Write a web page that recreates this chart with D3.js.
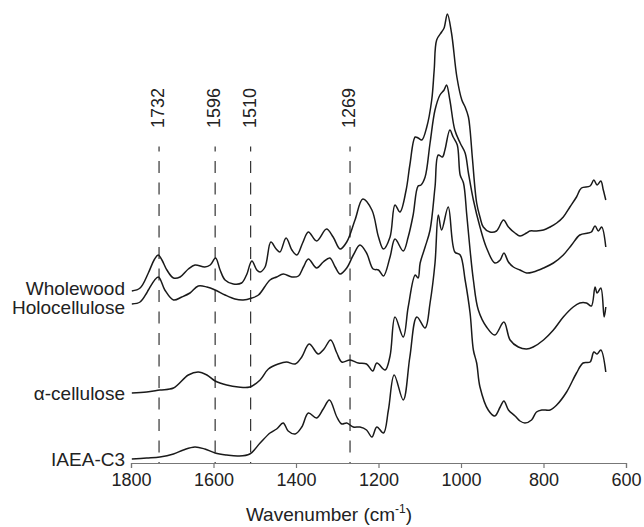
<!DOCTYPE html>
<html>
<head>
<meta charset="utf-8">
<script src="https://cdn.jsdelivr.net/npm/d3@7/dist/d3.min.js"></script>
<style>
  html, body { margin: 0; padding: 0; background: #fff; }
  svg { display: block; }
  text { font-family: "Liberation Sans", Arial, Helvetica, sans-serif; fill: #222; }
</style>
</head>
<body>
<svg id="chart" width="644" height="527"></svg>
<script>
// ---------- DATA (wavenumber cm-1, absorbance, offset spectra) ----------
const seriesNames = ["Wholewood", "Holocellulose", "\u03b1-cellulose", "IAEA-C3"];

const wholewood = [
  [1798,1.79],[1778,1.82],[1758,1.97],[1744,2.10],[1734,2.15],[1725,2.10],[1713,2.00],[1697,1.92],
  [1681,1.93],[1661,2.01],[1645,2.05],[1621,2.03],[1608,2.05],[1595,2.12],[1584,2.00],[1572,1.90],
  [1552,1.86],[1532,1.87],[1520,1.95],[1507,2.09],[1495,2.00],[1487,1.98],[1475,2.03],[1461,2.28],
  [1448,2.21],[1439,2.18],[1424,2.32],[1410,2.20],[1398,2.15],[1384,2.27],[1370,2.38],[1350,2.29],
  [1326,2.41],[1310,2.33],[1293,2.21],[1277,2.28],[1257,2.50],[1238,2.71],[1216,2.60],[1200,2.33],
  [1188,2.21],[1172,2.33],[1160,2.65],[1148,2.58],[1133,2.80],[1124,3.05],[1111,3.33],[1104,3.32],
  [1095,3.30],[1083,3.43],[1071,3.70],[1065,4.00],[1059,4.30],[1047,4.38],[1041,4.42],[1033,4.56],
  [1023,4.37],[1010,3.93],[998,3.70],[990,3.63],[982,3.53],[978,3.40],[972,3.10],[962,2.67],
  [954,2.53],[946,2.43],[930,2.38],[914,2.39],[897,2.50],[885,2.43],[869,2.37],[857,2.34],
  [841,2.37],[833,2.39],[817,2.39],[800,2.40],[784,2.43],[768,2.47],[752,2.53],[736,2.63],
  [720,2.73],[708,2.82],[687,2.84],[678,2.90],[670,2.85],[661,2.89],[655,2.80],[649,2.70]
];

const holocellulose = [
  [1798,1.66],[1778,1.68],[1762,1.77],[1758,1.80],[1734,1.93],[1718,1.80],[1697,1.70],[1677,1.73],
  [1657,1.77],[1637,1.84],[1616,1.83],[1596,1.80],[1572,1.75],[1548,1.71],[1528,1.70],[1507,1.72],
  [1491,1.75],[1463,1.90],[1447,1.93],[1431,1.96],[1410,1.93],[1394,1.94],[1382,2.03],[1370,2.11],
  [1350,2.02],[1334,2.08],[1318,2.12],[1305,2.03],[1293,1.96],[1277,2.02],[1261,2.15],[1245,2.25],
  [1229,2.17],[1213,2.01],[1200,2.00],[1188,1.94],[1172,2.13],[1160,2.31],[1140,2.19],[1128,2.33],
  [1116,2.55],[1104,2.84],[1097,2.85],[1087,2.93],[1075,3.27],[1063,3.60],[1051,3.75],[1041,3.80],
  [1035,3.85],[1027,3.70],[1015,3.40],[1002,3.27],[990,3.17],[982,2.97],[970,2.70],[954,2.43],
  [938,2.22],[918,2.07],[905,2.10],[896,2.17],[885,2.08],[873,2.03],[857,2.00],[841,1.97],
  [825,1.98],[800,2.02],[776,2.07],[752,2.15],[732,2.25],[712,2.35],[692,2.37],[684,2.38],
  [675,2.44],[667,2.39],[659,2.43],[649,2.23]
];

const alphaCellulose = [
  [1798,0.77],[1762,0.78],[1730,0.80],[1697,0.82],[1661,0.95],[1637,0.98],[1616,0.95],[1596,0.89],
  [1568,0.85],[1540,0.83],[1512,0.83],[1487,0.90],[1467,1.01],[1443,1.06],[1423,1.08],[1402,1.06],
  [1386,1.13],[1368,1.26],[1346,1.16],[1332,1.21],[1316,1.30],[1301,1.17],[1289,1.08],[1269,1.10],
  [1249,1.07],[1229,1.06],[1214,0.99],[1204,1.07],[1184,1.00],[1172,1.14],[1160,1.53],[1140,1.33],
  [1128,1.63],[1111,1.95],[1104,1.92],[1099,2.07],[1087,2.23],[1075,2.40],[1063,2.83],[1055,3.15],
  [1045,3.13],[1039,3.20],[1027,3.40],[1019,3.33],[1009,3.25],[1002,2.95],[994,2.87],[986,2.55],
  [978,2.20],[970,1.90],[958,1.60],[938,1.43],[918,1.35],[896,1.48],[881,1.30],[861,1.23],
  [841,1.21],[825,1.23],[800,1.30],[776,1.40],[752,1.53],[728,1.63],[712,1.67],[696,1.67],
  [684,1.64],[675,1.83],[670,1.77],[661,1.82],[653,1.53],[649,1.63]
];

const iaeaC3 = [
  [1798,0.11],[1762,0.12],[1730,0.13],[1697,0.16],[1673,0.20],[1645,0.23],[1621,0.21],[1596,0.17],
  [1568,0.15],[1540,0.14],[1512,0.16],[1487,0.27],[1463,0.37],[1447,0.41],[1431,0.47],[1419,0.39],
  [1402,0.36],[1386,0.43],[1370,0.57],[1350,0.52],[1334,0.61],[1319,0.70],[1301,0.53],[1289,0.46],
  [1277,0.47],[1261,0.43],[1245,0.43],[1229,0.40],[1216,0.33],[1204,0.43],[1188,0.37],[1176,0.60],
  [1162,0.95],[1140,0.70],[1124,1.13],[1107,1.53],[1087,1.42],[1075,1.67],[1063,2.07],[1055,2.55],
  [1047,2.40],[1031,2.63],[1015,2.18],[1002,2.15],[990,1.90],[978,1.57],[970,1.20],[962,1.07],
  [954,0.83],[934,0.60],[918,0.54],[905,0.63],[896,0.69],[885,0.60],[869,0.54],[857,0.49],
  [845,0.47],[829,0.50],[817,0.58],[804,0.60],[784,0.60],[768,0.65],[744,0.78],[720,0.97],
  [704,1.07],[687,1.08],[678,1.18],[670,1.16],[661,1.20],[649,0.98]
];

const markerWn = [1732, 1596, 1510, 1269];
const xTicks = [1800, 1600, 1400, 1200, 1000, 800, 600];
const xTitle = "Wavenumber (cm";
const xTitleSup = "-1";

// ---------- LAYOUT ----------
const svg = d3.select("#chart");
const x = d3.scaleLinear().domain([1800, 600]).range([131, 626]);
const y = d3.scaleLinear().domain([0, 4.6]).range([470, 10]);
const axisY = 463;
const fontSize = 18;
const labelSize = 19;

// dashed marker lines
svg.append("g").selectAll("line").data(markerWn).join("line")
  .attr("x1", d => x(d)).attr("x2", d => x(d))
  .attr("y1", 146.5).attr("y2", axisY)
  .attr("stroke", "#333").attr("stroke-width", 1.2)
  .attr("stroke-dasharray", "12,9.5").attr("stroke-dashoffset", 7);

svg.append("g").selectAll("text").data(markerWn).join("text")
  .attr("transform", d => `translate(${x(d) + 5},128) rotate(-90)`)
  .attr("text-anchor", "start")
  .attr("font-size", fontSize)
  .text(d => d);

// spectra
const line = d3.line()
  .x(d => x(d[0])).y(d => y(d[1]))
  .curve(d3.curveCatmullRom.alpha(0.5));

const series = [wholewood, holocellulose, alphaCellulose, iaeaC3];
svg.append("g").selectAll("path").data(series).join("path")
  .attr("d", line)
  .attr("fill", "none")
  .attr("stroke", "#1a1a1a")
  .attr("stroke-width", 1.5)
  .attr("stroke-linejoin", "round");

// series labels, placed at the start of each spectrum
const labelBaseline = [295, 314, 400, 466];
svg.append("g").selectAll("text").data(seriesNames).join("text")
  .attr("x", 125)
  .attr("y", (d, i) => labelBaseline[i])
  .attr("text-anchor", "end")
  .attr("font-size", labelSize)
  .text(d => d);

// x axis
const xAxis = d3.axisBottom(x).tickValues(xTicks).tickSize(5).tickPadding(5).tickFormat(d3.format("d"));
const gx = svg.append("g").attr("transform", `translate(0,${axisY})`).call(xAxis);
gx.select(".domain").attr("stroke", "#777").attr("stroke-width", 1.2);
gx.selectAll(".tick line").attr("stroke", "#777").attr("stroke-width", 1.2);
gx.selectAll(".tick text")
  .attr("font-size", fontSize)
  .attr("font-family", "'Liberation Sans', Arial, Helvetica, sans-serif")
  .attr("fill", "#222");

// axis title
const title = svg.append("text")
  .attr("x", 329)
  .attr("y", 521)
  .attr("text-anchor", "middle")
  .attr("font-size", labelSize);
title.append("tspan").text(xTitle);
title.append("tspan").attr("font-size", 12).attr("dy", -8).text(xTitleSup);
title.append("tspan").attr("dy", 8).text(")");
</script>
</body>
</html>
